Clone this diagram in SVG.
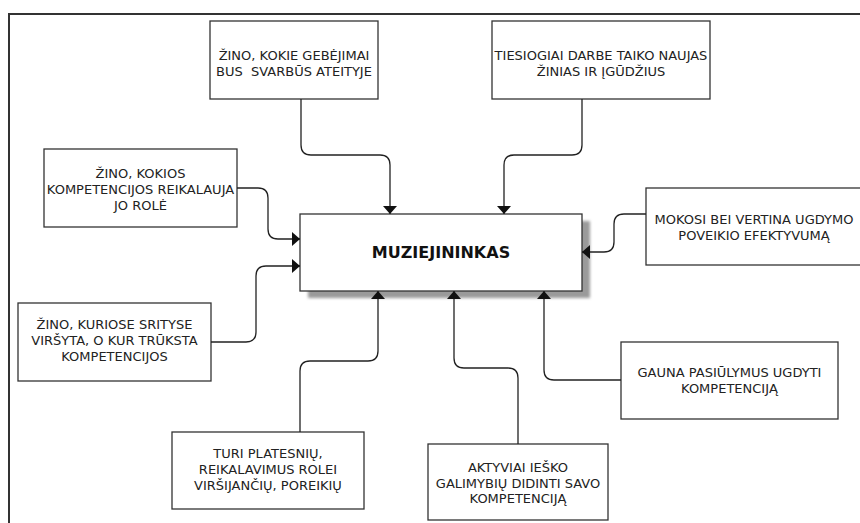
<svg xmlns="http://www.w3.org/2000/svg" width="860" height="523" viewBox="0 0 860 523">
<style>
.box{fill:#fff;stroke:#333;stroke-width:1.3}
.t{font-family:"DejaVu Sans","Verdana",sans-serif;font-size:13px;fill:#222;text-anchor:middle}
.main{font-family:"DejaVu Sans","Verdana",sans-serif;font-size:16px;font-weight:bold;fill:#111;text-anchor:middle}
.c{fill:none;stroke:#222;stroke-width:1.3;marker-end:url(#arr)}
</style>
<defs>
<marker id="arr" markerUnits="userSpaceOnUse" markerWidth="9" markerHeight="15" refX="8" refY="7" orient="auto" viewBox="0 0 9 15">
<path d="M0,0 L8,7 L0,14 z" fill="#111"/>
</marker>
<filter id="blur" x="-10%" y="-10%" width="120%" height="130%"><feGaussianBlur stdDeviation="1.5"/></filter>
</defs>
<rect width="860" height="523" fill="#fff"/>
<rect x="9" y="14" width="900" height="600" fill="none" stroke="#333" stroke-width="2"/>

<g id="main">
<rect x="308" y="221" width="282" height="77" fill="#9a9a9a" filter="url(#blur)"/>
<rect class="box" x="300" y="214" width="282" height="77"/>
<text class="main" x="441" y="258">MUZIEJININKAS</text>
</g>

<g id="n1">
<rect class="box" x="210" y="21" width="168" height="78"/>
<text class="t" x="294" y="60">ŽINO, KOKIE GEBĖJIMAI</text>
<text class="t" x="294" y="75.5" xml:space="preserve">BUS  SVARBŪS ATEITYJE</text>
</g>

<g id="n2">
<rect class="box" x="492" y="21" width="218" height="78"/>
<text class="t" x="601" y="60">TIESIOGIAI DARBE TAIKO NAUJAS</text>
<text class="t" x="601" y="75.5">ŽINIAS IR ĮGŪDŽIUS</text>
</g>

<g id="n3">
<rect class="box" x="44" y="149" width="193" height="78"/>
<text class="t" x="140.5" y="178">ŽINO, KOKIOS</text>
<text class="t" x="140.5" y="194">KOMPETENCIJOS REIKALAUJA</text>
<text class="t" x="140.5" y="210">JO ROLĖ</text>
</g>

<g id="n4">
<rect class="box" x="646" y="188" width="220" height="77"/>
<text class="t" x="754" y="224">MOKOSI BEI VERTINA UGDYMO</text>
<text class="t" x="754" y="240">POVEIKIO EFEKTYVUMĄ</text>
</g>

<g id="n5">
<rect class="box" x="18" y="303" width="193" height="78"/>
<text class="t" x="114.5" y="329">ŽINO, KURIOSE SRITYSE</text>
<text class="t" x="114.5" y="345">VIRŠYTA, O KUR TRŪKSTA</text>
<text class="t" x="114.5" y="361">KOMPETENCIJOS</text>
</g>

<g id="n6">
<rect class="box" x="172" y="432" width="192" height="77"/>
<text class="t" x="268" y="458">TURI PLATESNIŲ,</text>
<text class="t" x="268" y="474">REIKALAVIMUS ROLEI</text>
<text class="t" x="268" y="490">VIRŠIJANČIŲ, POREIKIŲ</text>
</g>

<g id="n7">
<rect class="box" x="428" y="444" width="180" height="76"/>
<text class="t" x="518" y="472">AKTYVIAI IEŠKO</text>
<text class="t" x="518" y="487.5">GALIMYBIŲ DIDINTI SAVO</text>
<text class="t" x="518" y="503">KOMPETENCIJĄ</text>
</g>

<g id="n8">
<rect class="box" x="621" y="342" width="217" height="77"/>
<text class="t" x="729.5" y="377">GAUNA PASIŪLYMUS UGDYTI</text>
<text class="t" x="729.5" y="393">KOMPETENCIJĄ</text>
</g>

<g id="connectors">
<path class="c" d="M301,99 V145 Q301,155 311,155 H380 Q390,155 390,165 V214"/>
<path class="c" d="M582,99 V145 Q582,155 572,155 H514 Q504,155 504,165 V214"/>
<path class="c" d="M237,188 H258 Q268,188 268,198 V229 Q268,239 278,239 H300"/>
<path class="c" d="M211,342 H246 Q256,342 256,332 V276 Q256,266 266,266 H300"/>
<path class="c" d="M646,214 H624 Q614,214 614,224 V242 Q614,252 604,252 H582"/>
<path class="c" d="M300,432 V371 Q300,361 310,361 H368 Q378,361 378,351 V291"/>
<path class="c" d="M518,444 V378 Q518,368 508,368 H464 Q454,368 454,358 V291"/>
<path class="c" d="M621,380 H554 Q544,380 544,370 V291"/>
</g>
</svg>
